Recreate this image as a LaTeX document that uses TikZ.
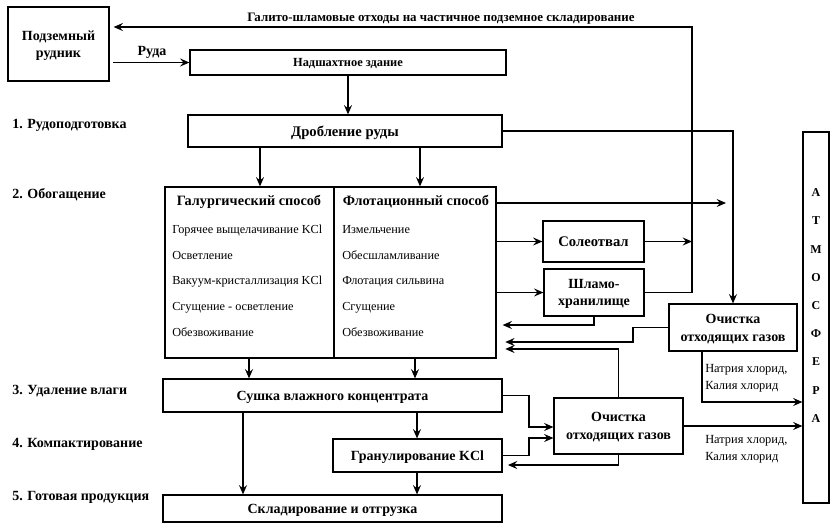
\documentclass[tikz,border=0pt]{standalone}
\usepackage{fontspec}
\setmainfont{Liberation Serif}
\usetikzlibrary{arrows.meta}
\tikzset{
  box/.style={draw, line width=0.9pt, inner sep=0pt, align=center, text depth=0pt, font=\bfseries\fontsize{10.5}{13.5}\selectfont},
  sz/.style 2 args={minimum width=#1*0.75pt, minimum height=#2*0.75pt},
  arr/.style={line width=0.9pt, -{Stealth[length=7pt,width=6pt,inset=2.5pt]}},
  stage/.style={anchor=west, inner sep=0pt, text depth=0pt, font=\bfseries\fontsize{10.5}{12}\selectfont},
  item/.style={anchor=west, inner sep=0pt, text depth=0pt, font=\fontsize{9.2}{11}\selectfont},
  title/.style={inner sep=0pt, text depth=0pt, font=\bfseries\fontsize{10.7}{12}\selectfont},
  note/.style={anchor=north west, inner sep=0pt, align=left, font=\fontsize{9.3}{12.75}\selectfont},
}
\begin{document}
\begin{tikzpicture}[x=0.75pt,y=-0.75pt]
\useasboundingbox (0,0) rectangle (839,529);
% boxes
\node[box, sz={101}{74}, font=\bfseries\fontsize{10.5}{12.75}\selectfont] (mine) at (58.5,44) {Подземный\\рудник};
\node[box, sz={316}{25}, font=\bfseries\fontsize{9.3}{11}\selectfont] (nadsh) at (348,62.5) {Надшахтное здание};
\node[box, sz={314}{32}, font=\bfseries\fontsize{11}{13}\selectfont] (drob) at (345,131) {Дробление руды};
\node[box, sz={169}{171}] (gal) at (249.5,272.5) {};
\node[box, sz={162}{171}] (flot) at (415,272.5) {};
\node[box, sz={101}{41}, font=\bfseries\fontsize{11}{13}\selectfont] (soleot) at (593.5,241.5) {Солеотвал};
\node[box, sz={100}{47}, font=\bfseries\fontsize{10.5}{12.75}\selectfont] (shlam) at (594,292.5) {Шламо-\\хранилище};
\node[box, sz={128}{47}] (och1) at (733,327.5) {Очистка\\отходящих газов};
\node[box, sz={26}{371}] (atm) at (816,317.5) {};
\node[box, sz={339}{33}] (sushka) at (332.5,395.5) {Сушка влажного концентрата};
\node[box, sz={169}{33}] (gran) at (417.5,455.5) {Гранулирование KCl};
\node[box, sz={129}{56}] (och2) at (618.5,426) {Очистка\\отходящих газов};
\node[box, sz={339}{27}] (sklad) at (332.5,508.5) {Складирование и отгрузка};

% atmosphere letters
\node[inner sep=0pt, align=center, font=\bfseries\fontsize{9}{21.15}\selectfont] (atmtext) at (816,305.5) {А\\Т\\М\\О\\С\\Ф\\Е\\Р\\А};

% texts in the enrichment box
\node[title] (galt) at (249,200) {Галургический способ};
\node[title] (flott) at (416,200) {Флотационный способ};
\node[item] (g1) at (172,229) {Горячее выщелачивание KCl};
\node[item] (g2) at (172,255) {Осветление};
\node[item] (g3) at (172,280) {Вакуум-кристаллизация KCl};
\node[item] (g4) at (172,306) {Сгущение - осветление};
\node[item] (g5) at (172,332) {Обезвоживание};
\node[item] (f1) at (342,229) {Измельчение};
\node[item] (f2) at (342,255) {Обесшламливание};
\node[item] (f3) at (342,280) {Флотация сильвина};
\node[item] (f4) at (342,306) {Сгущение};
\node[item] (f5) at (342,332) {Обезвоживание};

% stage labels
\node[stage] (s1) at (12,124) {1. Рудоподготовка};
\node[stage] (s2) at (12,193) {2. Обогащение};
\node[stage] (s3) at (12,390) {3. Удаление влаги};
\node[stage] (s4) at (12,443) {4. Компактирование};
\node[stage] (s5) at (12,496) {5. Готовая продукция};

% other labels
\node[inner sep=0pt, text depth=0pt, font=\bfseries\fontsize{9.7}{12}\selectfont] (toplab) at (441,17) {Галито-шламовые отходы на частичное подземное складирование};
\node[inner sep=0pt, text depth=0pt, font=\bfseries\fontsize{10.5}{12}\selectfont] (rudalab) at (152,51) {Руда};
\node[note] (na1) at (705,364) {Натрия хлорид,\\Калия хлорид};
\node[note] (na2) at (705,435) {Натрия хлорид,\\Калия хлорид};

% helper coordinates
\coordinate (vx) at (692,0);
\coordinate (topy) at (0,27);
\coordinate (rudas) at (113,62.5);
\coordinate (xa) at (260,0);
\coordinate (xb) at (420,0);
\coordinate (xc) at (249,0);
\coordinate (xd) at (415,0);
\coordinate (xe) at (243,0);
\coordinate (xf) at (417,0);
\coordinate (flend) at (726,203);
\coordinate (y203) at (0,203);
\coordinate (y325) at (0,325);
\coordinate (y342) at (0,342);
\coordinate (y349) at (0,349);
\coordinate (xg) at (633,0);
\coordinate (xh) at (702,0);
\coordinate (y402) at (0,402);
\coordinate (xi) at (529,0);
\coordinate (y427) at (0,427);
\coordinate (y438) at (0,438);
\coordinate (y465) at (0,465);

% connectors
\draw[arr, shorten >=3pt] (shlam.east) -- (shlam.east -| vx) -- (vx |- topy) -- (mine.east |- topy);
\draw[arr] (soleot.east) -- (soleot.east -| vx);
\draw[arr] (rudas) -- (nadsh.west);
\draw[arr] (nadsh.south) -- (nadsh.south |- drob.north);
\draw[arr] (drob.east) -| (och1.north);
\draw[arr] (drob.south -| xa) -- (gal.north -| xa);
\draw[arr] (drob.south -| xb) -- (flot.north -| xb);
\draw[arr] (flot.east |- y203) -- (flend);
\draw[arr] (flot.east |- soleot.west) -- (soleot.west);
\draw[arr] (flot.east |- shlam.west) -- (shlam.west);
\draw[arr, shorten >=4.5pt] (shlam.south) |- (flot.east |- y325);
\draw[arr, shorten >=6.5pt] (och1.west) -- (och1.west -| xg) -- (xg |- y342) -- (flot.east |- y342);
\draw[arr, shorten >=6.5pt] (och2.north) |- (flot.east |- y349);
\draw[arr] (och1.south -| xh) |- (atm.west |- y402);
\draw[arr] (gal.south -| xc) -- (sushka.north -| xc);
\draw[arr] (flot.south -| xd) -- (sushka.north -| xd);
\draw[arr] (sushka.south -| xe) -- (sklad.north -| xe);
\draw[arr] (sushka.south -| xf) -- (gran.north -| xf);
\draw[arr] (gran.south -| xf) -- (sklad.north -| xf);
\draw[arr] (sushka.east) -- (sushka.east -| xi) -- (xi |- y427) -- (och2.west |- y427);
\draw[arr] (gran.east) -- (gran.east -| xi) -- (xi |- y438) -- (och2.west |- y438);
\draw[arr, shorten >=4pt] (och2.south) |- (gran.east |- y465);
\draw[arr] (och2.east) -- (och2.east -| atm.west);
\end{tikzpicture}
\end{document}
